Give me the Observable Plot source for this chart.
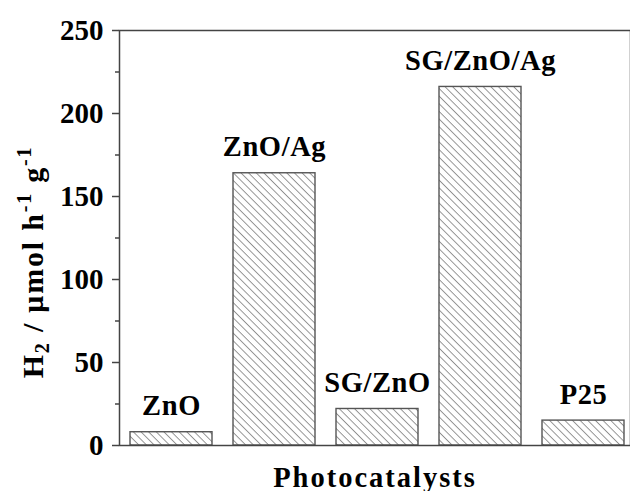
<!DOCTYPE html>
<html>
<head>
<meta charset="utf-8">
<script src="https://cdn.jsdelivr.net/npm/d3@7"></script>
<script src="https://cdn.jsdelivr.net/npm/@observablehq/plot@0.6"></script>
<style>
  html, body { margin: 0; padding: 0; background: #fff; overflow: hidden; }
  #chart svg { overflow: hidden; }
</style>
</head>
<body>
<div id="chart"></div>
<script>
const categories = ["ZnO", "ZnO/Ag", "SG/ZnO", "SG/ZnO/Ag", "P25"];
const values = [8, 164, 22, 216, 15];
const majorTicks = [0, 50, 100, 150, 200, 250];
const minorTicks = [25, 75, 125, 175, 225];

const data = categories.map((c, i) => ({ cat: c, value: values[i] }));
const FONT = "'Liberation Serif', 'Times New Roman', serif";

const chart = Plot.plot({
  width: 630,
  height: 491,
  marginLeft: 119,
  marginTop: 30,
  marginBottom: 46,
  marginRight: 0,
  style: { fontFamily: FONT, fontWeight: "bold", fontSize: "28px", color: "#000", background: "#fff" },
  x: { domain: categories, range: [119, 635.5], paddingInner: 0.2, paddingOuter: 0.1, axis: null },
  y: { domain: [0, 250], axis: null },
  marks: [
    Plot.barY(data, { x: "cat", y: "value", fill: "url(#hatch)", stroke: "#555", strokeWidth: 1.4 }),
    Plot.frame({ stroke: "#444", strokeWidth: 1.5 }),
    Plot.axisY({ ticks: majorTicks, tickSize: 7, tickPadding: 9, stroke: "#444", strokeWidth: 1.5,
      label: null, fontSize: 29, fontWeight: "bold", fill: "#000" }),
    Plot.axisY({ ticks: minorTicks, tickSize: 4, text: null, label: null, stroke: "#444", strokeWidth: 1.5 }),
    Plot.text(data, { x: "cat", y: "value", text: "cat", lineAnchor: "bottom", dy: -17,
      fontSize: 28.5, fontWeight: "bold", fill: "#000" }),
    Plot.text(["Photocatalysts"], { frameAnchor: "bottom", dy: 41, lineAnchor: "bottom",
      fontSize: 28.5, fontWeight: "bold", fill: "#000" })
  ]
});

const svg = d3.select(chart);
svg.insert("defs", ":first-child").html(
  `<pattern id="hatch" patternUnits="userSpaceOnUse" width="5.4" height="5.4" patternTransform="rotate(45)">
     <rect width="5.4" height="5.4" fill="#fff"></rect>
     <line x1="0" y1="0.5" x2="5.4" y2="0.5" stroke="#8a8a8a" stroke-width="0.9"></line>
   </pattern>`
);
svg.selectAll("text").filter(function () { return this.textContent === "Photocatalysts"; })
  .attr("letter-spacing", 2);
svg.selectAll("text").filter(function () { return categories.includes(this.textContent); })
  .attr("letter-spacing", 0.6);

// rotated y-axis title with sub/superscripts
const yl = svg.append("text")
  .attr("transform", "translate(43,262) rotate(-90)")
  .attr("text-anchor", "middle")
  .attr("font-family", FONT)
  .attr("font-weight", "bold")
  .attr("font-size", 30)
  .attr("letter-spacing", 1.8)
  .attr("fill", "#000");
yl.append("tspan").text("H");
yl.append("tspan").attr("font-size", 20).attr("dy", 6).text("2");
yl.append("tspan").attr("dy", -6).text(" / μmol h");
yl.append("tspan").attr("font-size", 20).attr("dy", -12).text("-1");
yl.append("tspan").attr("dy", 12).text(" g");
yl.append("tspan").attr("font-size", 20).attr("dy", -12).text("-1");

document.getElementById("chart").appendChild(chart);
</script>
</body>
</html>
